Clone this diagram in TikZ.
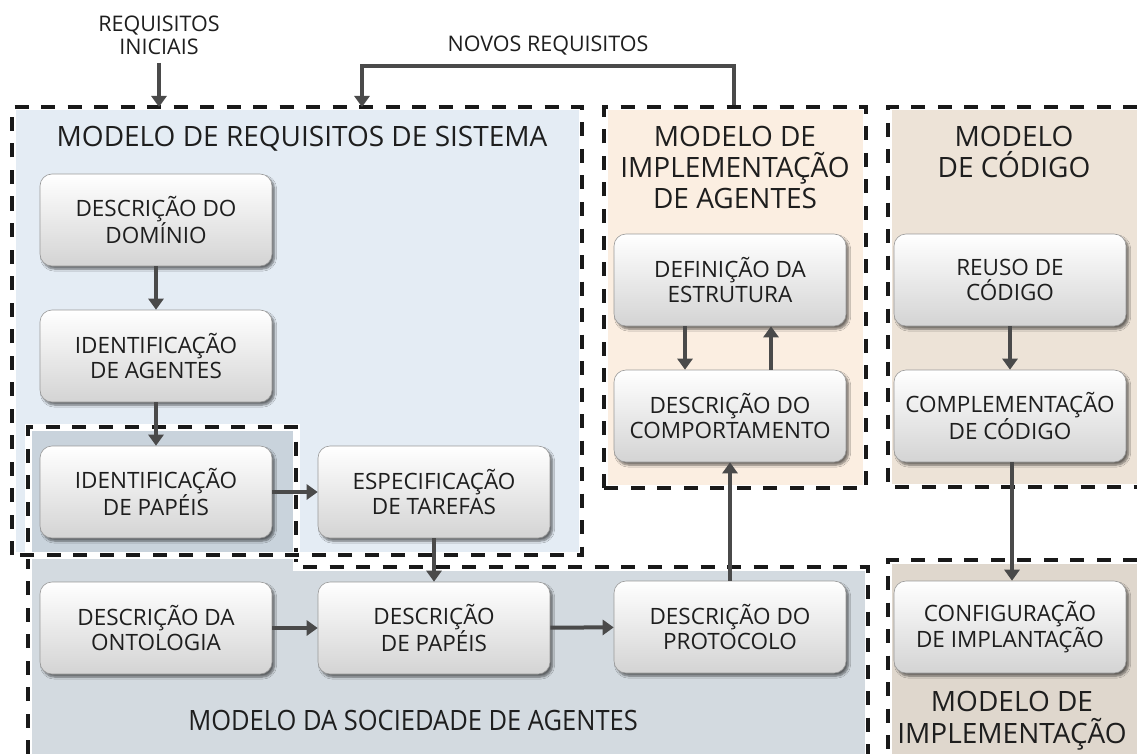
\documentclass[tikz,border=0pt]{standalone}
\usepackage{fontspec}
\setmainfont{Open Sans}
\usetikzlibrary{arrows.meta,shadows.blur}
\definecolor{reqfill}{HTML}{E4ECF4}
\definecolor{socfill}{HTML}{D3DAE0}
\definecolor{papfill}{HTML}{C9D3DC}
\definecolor{impfill}{HTML}{FBEEE1}
\definecolor{codfill}{HTML}{EDE3D7}
\definecolor{dplfill}{HTML}{DFD7CD}
\definecolor{arrowc}{HTML}{4A4A4A}
\definecolor{txt}{HTML}{1E1E1E}
\begin{document}
\begin{tikzpicture}[x=1pt,y=-1pt,
  box/.style={rounded corners=12pt, minimum width=232pt, minimum height=92pt, inner sep=0pt,
    draw=black!40, line width=0.6pt, top color=white, bottom color=black!17, align=center,
    text=txt, font=\fontsize{22.5}{24.5}\selectfont,
    blur shadow={shadow xshift=2.5pt, shadow yshift=-3pt, shadow blur steps=6, shadow opacity=55}},
  zone/.style={line width=4pt, draw=black!90, dash pattern=on 14pt off 12.5pt,
    preaction={draw=white, line width=7pt, solid}},
  flow/.style={line width=4pt, draw=arrowc, -{Triangle[width=15pt,length=11pt]}},
  ttl/.style={font=\fontsize{28}{31}\selectfont, anchor=base, inner sep=0pt, text=txt},
  lbl/.style={font=\fontsize{21.5}{23}\selectfont, anchor=base, inner sep=0pt, text=txt}]
\useasboundingbox (0,0) rectangle (1137,754);
% zone fills
\fill[reqfill] (14,109) rectangle (581,554);
\fill[socfill] (28,427) -- (296,427) -- (296,567) -- (868,567) -- (868,754) -- (28,754) -- cycle;
\fill[papfill] (28,427) rectangle (296,554);
\fill[impfill] (604,109) rectangle (866,488);
\fill[codfill] (890,109) rectangle (1137,486);
\fill[dplfill] (890,561) rectangle (1137,754);
% zone borders
\draw[zone] (28,754) -- (28,427) -- (296,427) -- (296,567) -- (868,567) -- (868,754);
\draw[zone] (12,555) -- (12,107) -- (582,107) -- (582,555) -- cycle;
\draw[zone] (604,488) -- (604,107) -- (866,107) -- (866,488) -- cycle;
\draw[zone] (1137,107) -- (888,107) -- (888,487) -- (1137,487);
\draw[zone] (1137,560) -- (888,560) -- (888,754);
% titles
\node[ttl] (t1) at (302,147) {MODELO DE REQUISITOS DE SISTEMA};
\node[ttl] (t2a) at (735,147) {MODELO DE};
\node[ttl] (t2b) at (735,178) {IMPLEMENTAÇÃO};
\node[ttl] (t2c) at (735,208) {DE AGENTES};
\node[ttl] (t3a) at (1014,147) {MODELO};
\node[ttl] (t3b) at (1014,178) {DE CÓDIGO};
\node[ttl] (t4) at (413,730) {\scalebox{0.91}[1]{MODELO DA SOCIEDADE DE AGENTES}};
\node[ttl] (t5a) at (1012,711) {MODELO DE};
\node[ttl] (t5b) at (1012,743) {IMPLEMENTAÇÃO};
% outside labels
\node[lbl] (ri1) at (159,32) {REQUISITOS};
\node[lbl] (ri2) at (159,55) {INICIAIS};
\node[lbl] (nr) at (548,52) {NOVOS REQUISITOS};
% boxes
\node[box] (dom) at (156,220) {DESCRIÇÃO DO\\DOMÍNIO};
\node[box] (age) at (156,356) {IDENTIFICAÇÃO\\DE AGENTES};
\node[box] (pap) at (156,492) {IDENTIFICAÇÃO\\DE PAPÉIS};
\node[box] (tar) at (434,492) {ESPECIFICAÇÃO\\DE TAREFAS};
\node[box] (ont) at (156,628) {DESCRIÇÃO DA\\ONTOLOGIA};
\node[box] (dpa) at (434,628) {DESCRIÇÃO\\DE PAPÉIS};
\node[box] (pro) at (730,627) {DESCRIÇÃO DO\\PROTOCOLO};
\node[box] (est) at (730,280) {DEFINIÇÃO DA\\ESTRUTURA};
\node[box] (com) at (730,416) {DESCRIÇÃO DO\\COMPORTAMENTO};
\node[box] (reu) at (1010,280) {REUSO DE\\CÓDIGO};
\node[box] (cpl) at (1010,416) {COMPLEMENTAÇÃO\\DE CÓDIGO};
\node[box] (cfg) at (1010,627) {CONFIGURAÇÃO\\DE IMPLANTAÇÃO};
% helper coordinates
\coordinate (riS) at (159,63);
\coordinate (riE) at (159,107);
\coordinate (nrS) at (734,105);
\coordinate (nrK) at (362,66);
\coordinate (nrE) at (362,107);
% connectors
\draw[flow] (riS) -- (riE);
\draw[flow] (nrS) |- (nrK) -- (nrE);
\draw[flow] (dom) -- (age);
\draw[flow] (age) -- (pap);
\draw[flow] (pap) -- (tar);
\draw[flow] (tar) -- (dpa);
\draw[flow] (ont) -- (dpa);
\draw[flow] (dpa) -- (pro);
\draw[flow] (pro) -- (com);
\draw[flow] ([xshift=-45pt]est.south) -- ([xshift=-45pt]com.north);
\draw[flow] ([xshift=41pt]com.north) -- ([xshift=41pt]est.south);
\draw[flow] (reu) -- (cpl);
\draw[flow] ([xshift=2pt]cpl.south) -- ([xshift=2pt]cfg.north);
\end{tikzpicture}
\end{document}
